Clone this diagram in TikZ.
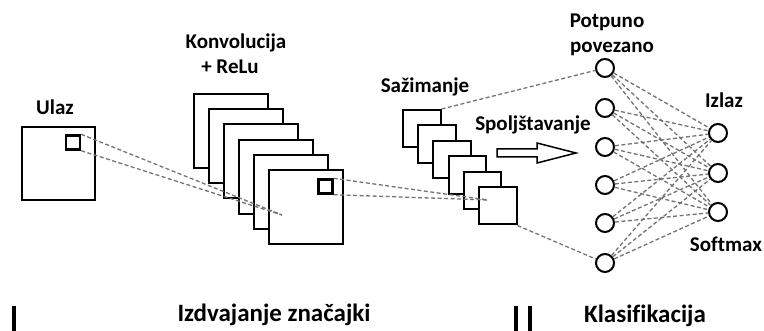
\documentclass[tikz,border=0pt]{standalone}
\usepackage{fontspec}
\setmainfont{Carlito}[Ligatures=NoCommon]
\usepackage{tikz}
\usetikzlibrary{positioning}

\tikzset{
	lbl/.style={font=\bfseries\fontsize{21}{23}\selectfont,anchor=base,inner sep=0},
	biglbl/.style={font=\bfseries\fontsize{25}{27}\selectfont,anchor=base,inner sep=0},
	fmap/.style={draw,line width=2pt,fill=white,minimum size=74pt,inner sep=0,anchor=north west},
	pmap/.style={draw,line width=2pt,fill=white,minimum size=37.5pt,inner sep=0,anchor=north west},
	patch/.style={draw,line width=2.4pt,minimum size=14pt,inner sep=0},
	neuron/.style={shape=circle,draw,line width=2pt,minimum size=18pt,inner sep=0},
	conn/.style={draw=black!55,dash pattern=on 4pt off 2.5pt,line width=1.3pt},
	bar/.style={line width=4pt}
}

\begin{document}
\begin{tikzpicture}[x=1pt,y=-1pt]
		\useasboundingbox (0,0) rectangle (764,331);
		% ulaz
		\node(inp) [fmap,minimum size=73pt] at (21,126) {};
		\node(pin) [patch] at (73,142.5) {};
		\node(ulaz) [lbl] at (55,115) {Ulaz};
		% konvolucija
		\foreach \i in {0,...,5}
			\node(c\i) [fmap] at (193+15*\i,93+15.2*\i) {};
		\node(cpatch) [patch] at (325.5,186.5) {};
		\node(konv) [lbl] at (236,49) {Konvolucija};
		\node(relu) [lbl] at (230,74) {+ ReLu};
		\coordinate(cfoc) at (282,215);
		\draw[conn] (pin.north east) -- (cfoc);
		\draw[conn] (pin.south east) -- (cfoc);
		% sazimanje
		\foreach \i in {0,...,5}
			\node(p\i) [pmap] at (402+15.2*\i,109+15.4*\i) {};
		\node(sazim) [lbl] at (425,93) {Sažimanje};
		\coordinate(pfoc) at (488,200);
		\draw[conn] (cpatch.north east) -- (pfoc);
		\draw[conn] (cpatch.south east) -- (pfoc);
		% spoljstavanje
		\node(spolj) [lbl] at (533,131) {Spoljštavanje};
		\draw[line width=1.5pt] (497,149) -- (537,149) -- (537,143) -- (576,153)
			-- (537,163) -- (537,157) -- (497,157) -- cycle;
		% potpuno povezano
		\foreach \i/\y in {1/68,2/108,3/147,4/185,5/223,6/263}
			\node(f\i) [neuron] at (605,\y) {};
		\node(potp) [lbl] at (607,28) {Potpuno};
		\node(povez) [lbl] at (612,53) {povezano};
		\draw[conn] (p0.north east) -- (f1);
		\draw[conn] (p5.south east) -- (f6);
		% izlaz
		\foreach \j/\y in {1/133,2/173,3/212}
			\node(o\j) [neuron] at (718,\y) {};
		\node(izlaz) [lbl] at (724,108) {Izlaz};
		\node(soft) [lbl] at (726,252) {Softmax};
		\foreach \i in {1,...,6}
			\foreach \j in {1,2,3}
				\draw[conn] (f\i) -- (o\j);
		% dijelovi
		\node(izdv) [biglbl] at (274,322) {Izdvajanje značajki};
		\node(klas) [biglbl] at (645,323) {Klasifikacija};
		\draw[bar] (14,306) -- (14,331);
		\draw[bar] (516,306) -- (516,331);
		\draw[bar] (530,306) -- (530,331);
	\end{tikzpicture}
\end{document}
